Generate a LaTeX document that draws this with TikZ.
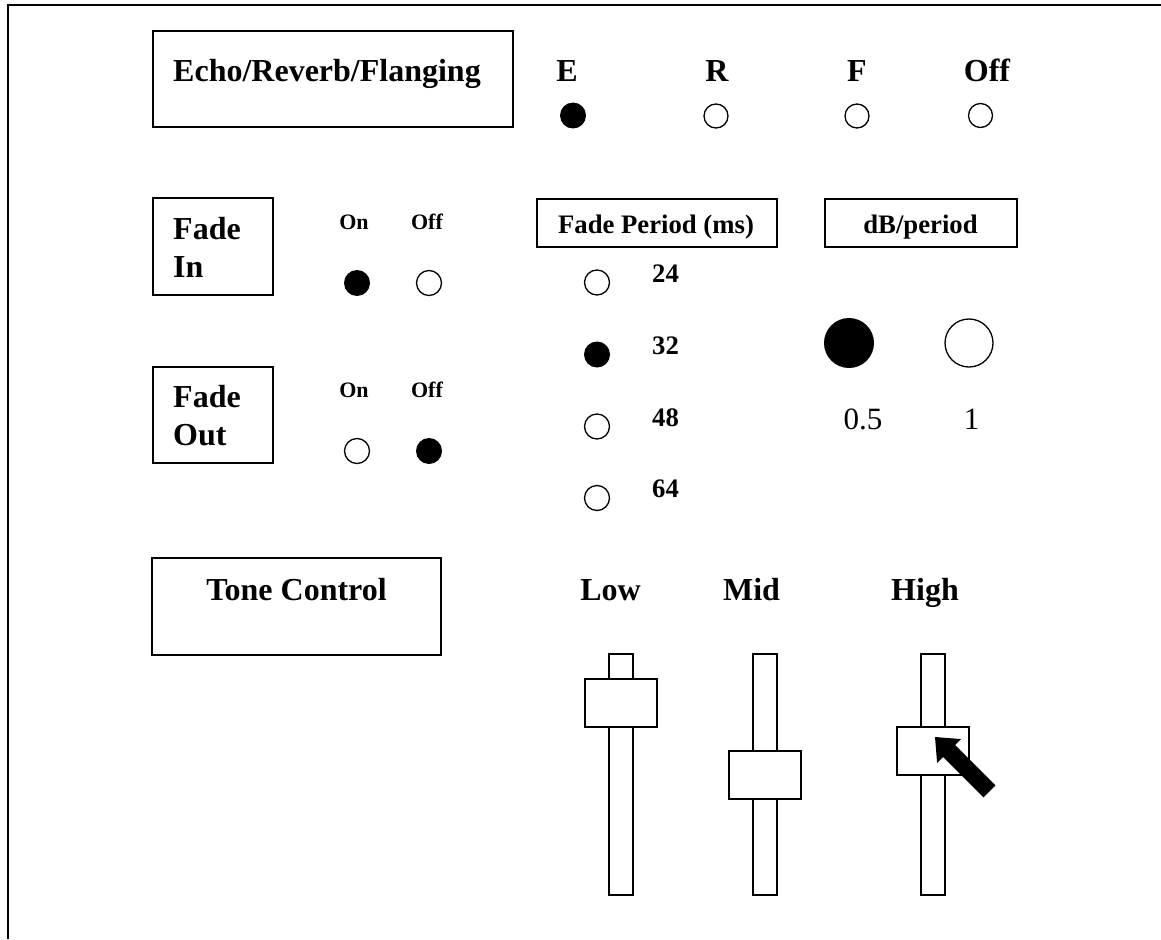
\documentclass[tikz,border=0pt]{standalone}
\usepackage{fontspec}
\setmainfont{Liberation Serif}
\begin{document}
\begin{tikzpicture}[x=1pt,y=-1pt,
  panel/.style={draw,line width=1.5pt,inner sep=0pt,fill=white},
  radio/.style={circle,draw,line width=1.3pt,inner sep=0pt,fill=white},
  radioon/.style={circle,fill=black,inner sep=0pt},
  bigtxt/.style={font=\fontsize{32}{37}\selectfont\bfseries,inner sep=0pt},
  midtxt/.style={font=\fontsize{26.7}{31}\selectfont\bfseries,inner sep=0pt},
  smalltxt/.style={font=\fontsize{22}{26}\selectfont\bfseries,inner sep=0pt},
  plaintxt/.style={font=\fontsize{31}{36}\selectfont,inner sep=0pt}]
\useasboundingbox (0,0) rectangle (1161,939);
% outer frame (top and left edges)
\coordinate (fbl) at (7.5,939);
\coordinate (ftl) at (7.5,5);
\coordinate (ftr) at (1161,5);
\draw[line width=2pt] (fbl) -- (ftl) -- (ftr);

% ---- effect selector ----
\node[panel,minimum width=360pt,minimum height=96pt] (echo) at (333,79) {};
\node[bigtxt,anchor=base west] (echot) at (173,82) {Echo/Reverb/Flanging};
\node[bigtxt,anchor=base] (le) at (567,82) {E};
\node[bigtxt,anchor=base] (lr) at (717,82) {R};
\node[bigtxt,anchor=base] (lf) at (857,82) {F};
\node[bigtxt,anchor=base] (loff) at (987,82) {Off};
\node[radioon,minimum size=26pt] (re) at (573,115.5) {};
\node[radio,minimum size=24pt] (rr) at (716,116) {};
\node[radio,minimum size=24pt] (rf) at (857,116) {};
\node[radio,minimum size=24pt] (roff) at (980.5,115.5) {};

% ---- fade in ----
\node[panel,minimum width=120pt,minimum height=97pt] (fin) at (213,246.5) {};
\node[bigtxt,anchor=base west,align=left] (fint1) at (173,239) {Fade};
\node[bigtxt,anchor=base west] (fint2) at (173,277) {In};
\node[smalltxt,anchor=base] (fion) at (354,229) {On};
\node[smalltxt,anchor=base] (fioff) at (427,229) {Off};
\node[radioon,minimum size=26pt] (rfion) at (357,283) {};
\node[radio,minimum size=25pt] (rfioff) at (429,283) {};

% ---- fade out ----
\node[panel,minimum width=120pt,minimum height=96pt] (fout) at (213,415) {};
\node[bigtxt,anchor=base west] (foutt1) at (173,407) {Fade};
\node[bigtxt,anchor=base west] (foutt2) at (173,445) {Out};
\node[smalltxt,anchor=base] (foon) at (354,397) {On};
\node[smalltxt,anchor=base] (fooff) at (427,397) {Off};
\node[radio,minimum size=25pt] (rfoon) at (357,451) {};
\node[radioon,minimum size=26pt] (rfooff) at (429,451) {};

% ---- fade period ----
\node[panel,minimum width=240pt,minimum height=48pt] (fp) at (657,223) {};
\node[midtxt,anchor=base] (fpt) at (656,233) {Fade Period (ms)};
\node[radio,minimum size=25pt] (p24) at (597,282.5) {};
\node[radioon,minimum size=26pt] (p32) at (597,354.5) {};
\node[radio,minimum size=25pt] (p48) at (597,426.5) {};
\node[radio,minimum size=25pt] (p64) at (597,498) {};
\node[midtxt,anchor=base west] (t24) at (652,282) {24};
\node[midtxt,anchor=base west] (t32) at (652,354) {32};
\node[midtxt,anchor=base west] (t48) at (652,426) {48};
\node[midtxt,anchor=base west] (t64) at (652,497) {64};

% ---- dB per period ----
\node[panel,minimum width=192pt,minimum height=48pt] (db) at (921,223) {};
\node[midtxt,anchor=base] (dbt) at (920.5,233) {dB/period};
\node[radioon,minimum size=50pt] (dbh) at (849,343) {};
\node[radio,minimum size=48pt] (dbo) at (969,343) {};
\node[plaintxt,anchor=base] (thalf) at (863,429) {0.5};
\node[plaintxt,anchor=base] (tone) at (971.5,429) {1};

% ---- tone control ----
\node[panel,minimum width=289pt,minimum height=97pt] (tc) at (296.5,606.5) {};
\node[bigtxt,anchor=base] (tct) at (296.5,600) {Tone Control};
\node[bigtxt,anchor=base] (tlow) at (610.5,600) {Low};
\node[bigtxt,anchor=base] (tmid) at (751.5,600) {Mid};
\node[bigtxt,anchor=base] (thigh) at (925,600) {High};

% slider tracks
\node[panel,minimum width=24pt,minimum height=241pt] (trlow) at (621,774.5) {};
\node[panel,minimum width=24pt,minimum height=241pt] (trmid) at (765,774.5) {};
\node[panel,minimum width=24pt,minimum height=241pt] (trhigh) at (933,774.5) {};
% slider knobs
\node[panel,minimum width=72pt,minimum height=48pt] (knlow) at (621,703) {};
\node[panel,minimum width=72pt,minimum height=48pt] (knmid) at (765,775) {};
\node[panel,minimum width=72pt,minimum height=48pt] (knhigh) at (933,751) {};

% pointer on the high knob
\coordinate (tip) at (935,737);
\fill (tip) -- (961.1,739.1) -- (955.1,745.1) -- (995.4,785.4)
  -- (983.4,797.4) -- (943.1,757.1) -- (937.1,763.1) -- cycle;
\end{tikzpicture}
\end{document}
